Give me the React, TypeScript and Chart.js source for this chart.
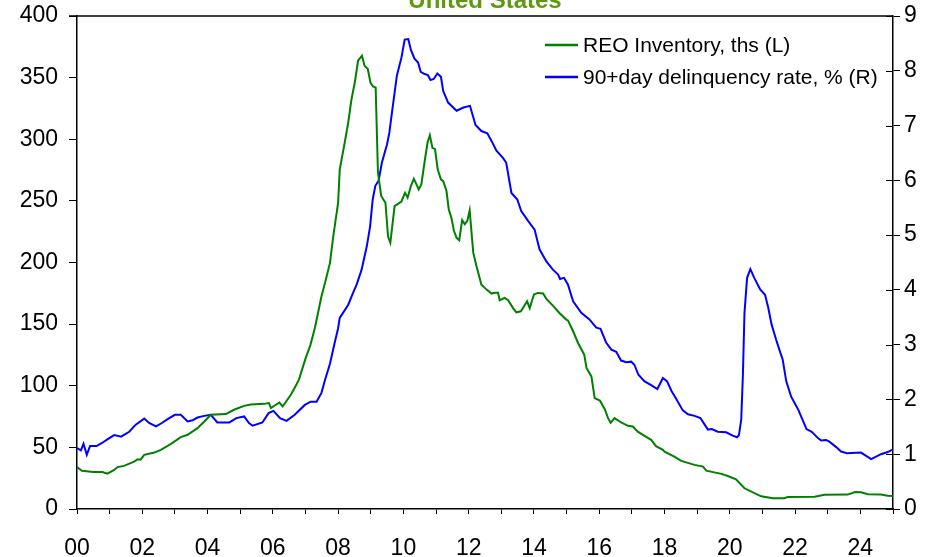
import React, { useEffect, useRef } from "react";
import { Chart, registerables } from "chart.js";

Chart.register(...registerables);

const TITLE = "United States";
const REO_LABEL = "REO Inventory, ths (L)";
const DQ_LABEL = "90+day delinquency rate, % (R)";

// REO inventory (thousands), x = decimal year
const reoYears = [
  2000.0, 2000.15, 2000.5, 2000.78, 2000.93, 2001.14, 2001.24, 2001.44, 2001.75, 2001.86, 2001.95,
  2002.06, 2002.37, 2002.57, 2002.88, 2003.18, 2003.39, 2003.69, 2003.9, 2004.1, 2004.56, 2004.81,
  2005.12, 2005.32, 2005.73, 2005.88, 2005.94, 2006.2, 2006.3, 2006.55, 2006.65, 2006.8, 2007.0,
  2007.15, 2007.29, 2007.49, 2007.6, 2007.75, 2007.85, 2008.0, 2008.05, 2008.2, 2008.31, 2008.41,
  2008.51, 2008.61, 2008.73, 2008.81, 2008.91, 2008.99, 2009.07, 2009.15, 2009.22, 2009.32, 2009.45,
  2009.53, 2009.6, 2009.73, 2009.94, 2010.05, 2010.13, 2010.23, 2010.32, 2010.47, 2010.55, 2010.66,
  2010.74, 2010.81, 2010.89, 2010.97, 2011.05, 2011.15, 2011.22, 2011.32, 2011.39, 2011.47, 2011.55,
  2011.63, 2011.71, 2011.8, 2011.88, 2011.96, 2012.03, 2012.14, 2012.24, 2012.39, 2012.55, 2012.7,
  2012.8, 2012.9, 2012.95, 2013.1, 2013.21, 2013.36, 2013.46, 2013.6, 2013.79, 2013.87, 2014.0,
  2014.12, 2014.28, 2014.38, 2014.58, 2014.78, 2014.99, 2015.04, 2015.2, 2015.35, 2015.54, 2015.61,
  2015.76, 2015.86, 2016.02, 2016.17, 2016.27, 2016.35, 2016.47, 2016.67, 2016.88, 2017.03, 2017.18,
  2017.39, 2017.59, 2017.74, 2017.95, 2018.0, 2018.3, 2018.51, 2018.92, 2019.18, 2019.28, 2019.74,
  2019.94, 2020.19, 2020.45, 2020.96, 2021.32, 2021.67, 2021.78, 2022.6, 2022.9, 2023.61, 2023.84,
  2024.02, 2024.23, 2024.63, 2024.84, 2025.0,
];
const reoValues = [
  34, 31, 30, 30, 28.7, 31.7, 34, 35, 38.5, 40.4, 40,
  43.9, 45.8, 48, 52.8, 58.3, 60.2, 65.6, 71, 76.4, 77, 80.5,
  83.7, 84.8, 85.3, 86, 81.9, 86.4, 83.2, 92.7, 97.3, 105, 122,
  133, 147, 172.6, 183.5, 199.7, 221, 248.5, 275.6, 297, 313.6, 332.5,
  346, 363.7, 367.7, 359.6, 357, 346, 342.8, 342, 273, 254, 248.5,
  221, 216, 245.8, 249.5, 256.6, 252.6, 262, 268, 259.3, 263.4, 283.7,
  297.3, 303.3, 293, 292, 275.6, 267.5, 266, 258, 243, 236.3, 225.5,
  220, 218, 234.4, 231, 234, 242.3, 208, 197, 182, 178, 174.8,
  175.4, 175.4, 169.4, 171.3, 169.4, 163, 159.6, 160.4, 168.5, 163, 174,
  175.3, 174.8, 170.5, 165, 159, 153.7, 153, 144.2, 134.7, 125.2, 114.4,
  107.6, 90, 88, 81, 73.7, 70, 73.7, 70.2, 67.5, 66.9, 62.8,
  59.3, 56.1, 51, 48, 46.6, 42.5, 39, 35.8, 34.4, 31.1, 28.5,
  26.8, 24.1, 16.8, 10.3, 8.7, 8.7, 9.8, 10, 11.6, 11.7, 13.7,
  13.5, 12, 11.7, 10.8, 10.6,
];

// 90+ day delinquency rate (%), x = decimal year
const dqYears = [
  2000.0, 2000.12, 2000.2, 2000.3, 2000.4, 2000.6, 2000.78, 2000.93, 2001.14, 2001.35, 2001.6,
  2001.8, 2002.06, 2002.21, 2002.42, 2002.6, 2002.8, 2003.0, 2003.18, 2003.39, 2003.54, 2003.69,
  2003.9, 2004.1, 2004.3, 2004.67, 2004.88, 2005.12, 2005.27, 2005.38, 2005.68, 2005.87, 2006.02,
  2006.22, 2006.42, 2006.67, 2006.98, 2007.16, 2007.34, 2007.49, 2007.6, 2007.75, 2007.9, 2008.0,
  2008.05, 2008.15, 2008.31, 2008.46, 2008.57, 2008.72, 2008.88, 2008.98, 2009.06, 2009.14, 2009.24,
  2009.34, 2009.5, 2009.57, 2009.65, 2009.8, 2009.94, 2010.04, 2010.15, 2010.23, 2010.34, 2010.45,
  2010.53, 2010.65, 2010.75, 2010.83, 2010.93, 2011.04, 2011.15, 2011.22, 2011.37, 2011.63, 2011.84,
  2012.04, 2012.21, 2012.39, 2012.57, 2012.7, 2012.85, 2013.05, 2013.15, 2013.31, 2013.49, 2013.61,
  2013.82, 2014.02, 2014.17, 2014.38, 2014.58, 2014.74, 2014.8, 2014.92, 2015.04, 2015.2, 2015.45,
  2015.7, 2015.91, 2016.04, 2016.21, 2016.37, 2016.52, 2016.67, 2016.83, 2016.98, 2017.08, 2017.2,
  2017.39, 2017.59, 2017.78, 2017.95, 2018.08, 2018.21, 2018.36, 2018.56, 2018.72, 2018.92, 2019.1,
  2019.23, 2019.33, 2019.45, 2019.63, 2019.89, 2020.09, 2020.22, 2020.28, 2020.35, 2020.4, 2020.45,
  2020.53, 2020.63, 2020.75, 2020.93, 2021.08, 2021.18, 2021.28, 2021.42, 2021.55, 2021.62, 2021.73,
  2021.88, 2021.99, 2022.1, 2022.25, 2022.35, 2022.51, 2022.71, 2022.8, 2022.95, 2023.05, 2023.26,
  2023.41, 2023.59, 2024.02, 2024.33, 2024.63, 2024.84, 2025.0,
];
const dqValues = [
  1.11, 1.07, 1.19, 0.99, 1.15, 1.15, 1.21, 1.27, 1.35, 1.32, 1.41,
  1.54, 1.65, 1.57, 1.51, 1.57, 1.65, 1.72, 1.72, 1.6, 1.62, 1.67,
  1.7, 1.72, 1.58, 1.58, 1.66, 1.69, 1.57, 1.52, 1.58, 1.75, 1.79,
  1.66, 1.61, 1.72, 1.9, 1.96, 1.96, 2.12, 2.36, 2.65, 3.05, 3.3,
  3.49, 3.58, 3.73, 3.95, 4.1, 4.37, 4.8, 5.16, 5.65, 5.9, 5.99,
  6.32, 6.66, 6.87, 7.24, 7.91, 8.24, 8.57, 8.58, 8.38, 8.22, 8.15,
  7.98, 7.94, 7.92, 7.83, 7.85, 7.95, 7.89, 7.63, 7.42, 7.27, 7.33,
  7.36, 7.01, 6.9, 6.86, 6.72, 6.54, 6.41, 6.32, 5.77, 5.65, 5.44,
  5.26, 5.1, 4.74, 4.52, 4.37, 4.28, 4.2, 4.22, 4.1, 3.79, 3.58,
  3.46, 3.31, 3.29, 3.04, 2.91, 2.87, 2.71, 2.68, 2.69, 2.63, 2.45,
  2.33, 2.26, 2.19, 2.39, 2.33, 2.16, 2.01, 1.8, 1.73, 1.7, 1.66,
  1.54, 1.45, 1.46, 1.41, 1.4, 1.34, 1.31, 1.35, 1.63, 2.42, 3.58,
  4.22, 4.38, 4.22, 4.01, 3.91, 3.67, 3.37, 3.09, 2.85, 2.73, 2.33,
  2.05, 1.93, 1.81, 1.6, 1.46, 1.41, 1.29, 1.25, 1.26, 1.23, 1.13,
  1.05, 1.02, 1.03, 0.91, 1.0, 1.04, 1.09,
];

const X_MIN = 2000;
const X_MAX = 2025;
const LEFT_MAX = 400;
const LEFT_STEP = 50;
const RIGHT_MAX = 9;
const RIGHT_STEP = 1;

const GREEN = "#008000";
const BLUE = "#0000FF";
const TITLE_COLOR = "#5E9A10";
const FONT = "'Liberation Sans', Arial, sans-serif";

const decorPlugin = {
  id: "decor",
  afterDraw(chart: any) {
    const { ctx, chartArea } = chart;
    const { left, right, top } = chartArea;
    ctx.save();
    // top border
    ctx.strokeStyle = "#000";
    ctx.lineWidth = 1.5;
    ctx.beginPath();
    ctx.moveTo(left - 8, top);
    ctx.lineTo(right, top);
    ctx.stroke();
    // inner half of right-axis ticks
    const yR = chart.scales.yR;
    ctx.lineWidth = 1;
    yR.ticks.forEach((t: any) => {
      const y = Math.round(yR.getPixelForValue(t.value)) + 0.5;
      ctx.beginPath();
      ctx.moveTo(right - 7, y);
      ctx.lineTo(right, y);
      ctx.stroke();
    });
    // title (partly cut off at top)
    ctx.fillStyle = TITLE_COLOR;
    ctx.font = `bold 24px ${FONT}`;
    ctx.textAlign = "center";
    ctx.textBaseline = "alphabetic";
    ctx.fillText(TITLE, (left + right) / 2, 8);
    // legend
    const items = [
      { label: REO_LABEL, color: GREEN, y: 45 },
      { label: DQ_LABEL, color: BLUE, y: 77 },
    ];
    ctx.font = `21px ${FONT}`;
    ctx.textAlign = "left";
    ctx.textBaseline = "middle";
    items.forEach((it) => {
      ctx.strokeStyle = it.color;
      ctx.lineWidth = 2.5;
      ctx.beginPath();
      ctx.moveTo(545, it.y);
      ctx.lineTo(578, it.y);
      ctx.stroke();
      ctx.fillStyle = "#000";
      ctx.fillText(it.label, 583, it.y + 1);
    });
    ctx.restore();
  },
};

const fitY = (w: number) => (s: any) => {
  s.width = w;
  s.paddingTop = 0;
  s.paddingBottom = 0;
};

export default function App() {
  const ref = useRef<HTMLCanvasElement | null>(null);

  useEffect(() => {
    if (!ref.current) return;
    const reoData = reoYears.map((x, i) => ({ x, y: reoValues[i] }));
    const dqData = dqYears.map((x, i) => ({ x, y: dqValues[i] }));
    const tickFont = { family: FONT, size: 23 };
    const chart = new Chart(ref.current, {
      type: "line",
      data: {
        datasets: [
          {
            label: REO_LABEL,
            data: reoData,
            yAxisID: "yL",
            borderColor: GREEN,
            borderWidth: 2,
            pointRadius: 0,
            tension: 0,
          },
          {
            label: DQ_LABEL,
            data: dqData,
            yAxisID: "yR",
            borderColor: BLUE,
            borderWidth: 2,
            pointRadius: 0,
            tension: 0,
          },
        ],
      },
      options: {
        responsive: false,
        animation: false,
        layout: { padding: { top: 16, left: 0, right: 0, bottom: 0 } },
        plugins: {
          legend: { display: false },
          title: { display: false },
          tooltip: { enabled: false },
        },
        scales: {
          x: {
            type: "linear",
            min: X_MIN,
            max: X_MAX,
            afterFit: (s: any) => {
              s.height = 48;
              s.paddingLeft = 0;
              s.paddingRight = 0;
            },
            afterBuildTicks: (s: any) => {
              const t = [];
              for (let v = X_MIN; v <= X_MAX; v++) t.push({ value: v });
              s.ticks = t;
            },
            ticks: {
              autoSkip: false,
              maxRotation: 0,
              color: "#000",
              font: tickFont,
              padding: 21,
              callback: (v: any) => {
                const n = Math.round(Number(v));
                if (n % 2 !== 0 || n > 2024) return "";
                return String(n % 100).padStart(2, "0");
              },
            },
            grid: {
              display: true,
              drawOnChartArea: false,
              drawTicks: true,
              tickLength: 5,
              color: "#000",
              lineWidth: 1,
            },
            border: { display: true, color: "#000", width: 1.5 },
          },
          yL: {
            type: "linear",
            position: "left",
            min: 0,
            max: LEFT_MAX,
            afterFit: fitY(77),
            ticks: {
              stepSize: LEFT_STEP,
              color: "#000",
              font: tickFont,
              padding: 11,
            },
            grid: {
              display: true,
              drawOnChartArea: false,
              drawTicks: true,
              tickLength: 8,
              color: "#000",
              lineWidth: 1,
            },
            border: { display: true, color: "#000", width: 1.5 },
          },
          yR: {
            type: "linear",
            position: "right",
            min: 0,
            max: RIGHT_MAX,
            afterFit: fitY(52),
            ticks: {
              stepSize: RIGHT_STEP,
              color: "#000",
              font: tickFont,
              padding: 4,
            },
            grid: {
              display: true,
              drawOnChartArea: false,
              drawTicks: true,
              tickLength: 7,
              color: "#000",
              lineWidth: 1,
            },
            border: { display: true, color: "#000", width: 1.5 },
          },
        },
      },
      plugins: [decorPlugin],
    });
    return () => chart.destroy();
  }, []);

  return (
    <div style={{ position: "fixed", left: 0, top: 0, width: 945, height: 557, background: "#fff" }}>
      <canvas ref={ref} width={945} height={557} style={{ display: "block" }} />
    </div>
  );
}
